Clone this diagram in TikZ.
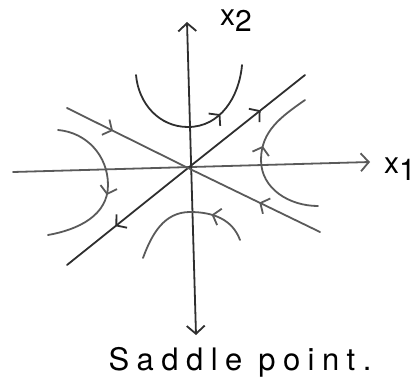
\documentclass[tikz,border=0pt]{standalone}
\usepackage{fontspec}
\newfontfamily\handfont[LetterSpace=24]{TeX Gyre Heros}
\usetikzlibrary{arrows.meta, decorations.markings}
\definecolor{pencilgray}{HTML}{2E2E2E}
\definecolor{lightpencil}{HTML}{5A5A5A}

\begin{document}
\begin{tikzpicture}[x=1pt, y=1pt,
    pencil/.style={line width=1.8pt, draw=pencilgray, line cap=round},
    softpencil/.style={pencil, draw=lightpencil},
    axistip/.style={-{Straight Barb[length=8pt, width=18pt]}},
    barb/.style={postaction={decorate, decoration={markings,
      mark=at position #1 with {\arrow{Straight Barb[length=7pt, width=17pt]}}}}}]
  \useasboundingbox (0,0) rectangle (419,389);

  \coordinate (O) at (188,221);
  \coordinate (x2tip) at (187,367);
  \coordinate (x2tail) at (196,54);
  \coordinate (x1tip) at (370,227);
  \coordinate (x1tail) at (13,217);
  \coordinate (uA) at (305,314);
  \coordinate (lA) at (67,124);
  \coordinate (uB) at (67,281);
  \coordinate (lB) at (320,157);

  \draw[softpencil, axistip] (x1tail) -- (x1tip);
  \draw[pencil, {Straight Barb[length=8pt, width=18pt]}-{Straight Barb[length=8pt, width=18pt]}] (x2tail) -- (x2tip);

  \draw[pencil, barb=0.62] (O) -- (uA);
  \draw[pencil, barb=0.6] (O) -- (lA);
  \draw[softpencil, barb=0.38] (uB) -- (O);
  \draw[softpencil, barb=0.46] (lB) -- (O);

  \draw[pencil, barb=0.68] (136,314) to[out=-85, in=180] (188,262) to[out=0, in=-95] (242,324);
  \draw[softpencil, barb=0.3] (240,149) to[out=110, in=0] (190,177) to[out=180, in=70] (143,131);
  \draw[softpencil, barb=0.55] (58,259) to[out=-5, in=90] (108,204) to[out=-90, in=10] (48,154);
  \draw[softpencil, barb=0.6] (318,183) to[out=180, in=-90] (261,229) to[out=90, in=215] (305,289);

  \node (x2lbl) at (236,368) {\handfont\fontsize{30}{32}\selectfont x\raisebox{-6pt}{2}};
  \node (x1lbl) at (400,220) {\handfont\fontsize{30}{32}\selectfont x\raisebox{-7pt}{1}};
  \node (title) at (240,27) {\handfont\fontsize{31}{34}\selectfont Saddle point.};
\end{tikzpicture}
\end{document}
